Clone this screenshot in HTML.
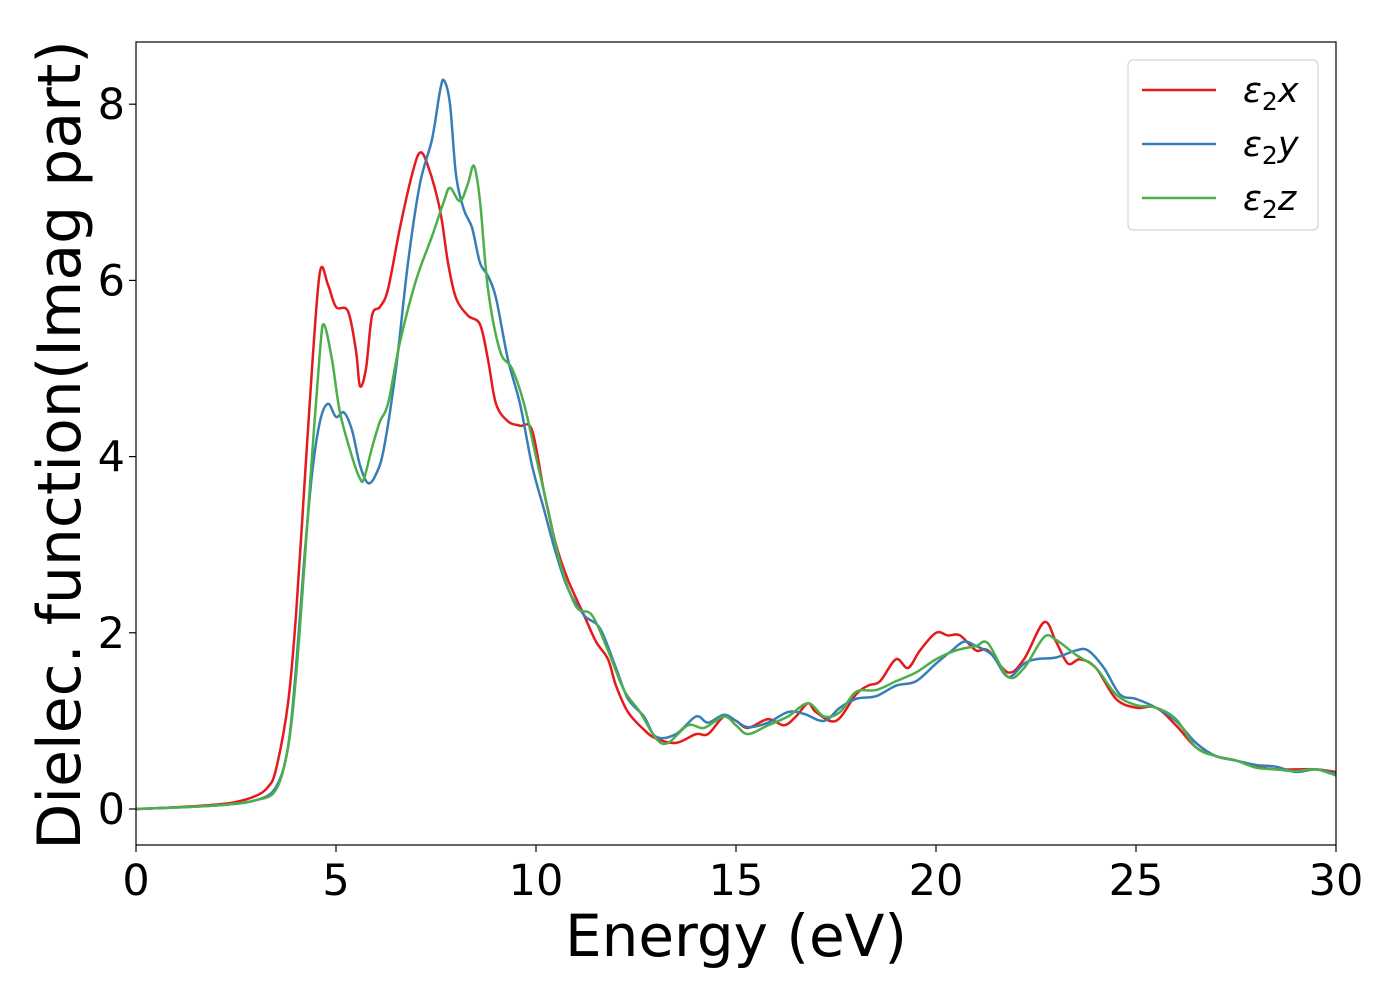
<!DOCTYPE html>
<html><head><meta charset="utf-8"><style>
body{margin:0;background:#fff;}
svg{display:block;font-family:"DejaVu Sans","Liberation Sans",sans-serif;}
</style></head><body>
<svg id="chart" width="1400" height="1000">
<rect x="136" y="42" width="1200" height="803" fill="#fff"/>
<g id="curves"></g>
<rect x="136" y="42" width="1200" height="803" fill="none" stroke="#000" stroke-width="1.2"/>
<g id="xt"></g>
<g id="yt"></g>
<text x="736" y="956" font-size="58" text-anchor="middle">Energy (eV)</text>
<text transform="translate(80,445) rotate(-90)" font-size="60" text-anchor="middle">Dielec. function(Imag part)</text>
<g>
<rect x="1128" y="60" width="190" height="170" rx="5" fill="#fff" fill-opacity="0.8" stroke="#ccc"/>
<g id="leg"></g>
</g>
</svg>
<script>
const categories=["x","y","z"];
const colors=["#e41a1c","#377eb8","#4daf4a"];
const xTicks=[0,5,10,15,20,25,30];
const yTicks=[0,2,4,6,8];
const energyX=[0,1,2,2.5,3,3.3,3.5,3.8,4.0,4.2,4.4,4.6,4.8,5.0,5.3,5.5,5.6,5.75,5.9,6.1,6.3,6.6,6.9,7.1,7.3,7.6,7.8,8.0,8.3,8.6,8.8,9.0,9.3,9.6,9.9,10.2,10.5,10.8,11.2,11.5,11.8,12,12.3,12.7,13.0,13.5,14,14.3,14.7,15.0,15.3,15.8,16.2,16.5,16.8,17,17.5,18,18.3,18.6,19,19.3,19.6,20,20.3,20.6,21,21.3,21.8,22.2,22.7,23,23.3,23.6,24,24.5,25,25.5,26,26.5,27,27.5,28,28.5,29,29.5,30];
const valuesX=[0,0.02,0.05,0.08,0.15,0.25,0.45,1.2,2.2,3.6,5.0,6.1,5.95,5.7,5.65,5.2,4.8,5.0,5.6,5.7,5.9,6.6,7.2,7.45,7.3,6.8,6.2,5.8,5.6,5.5,5.1,4.6,4.4,4.35,4.3,3.6,3.0,2.6,2.2,1.9,1.7,1.4,1.1,0.9,0.8,0.75,0.85,0.85,1.05,1.0,0.92,1.02,0.95,1.05,1.2,1.1,1.0,1.3,1.4,1.45,1.7,1.6,1.8,2.0,1.97,1.97,1.8,1.8,1.55,1.7,2.12,1.9,1.65,1.7,1.6,1.25,1.15,1.15,0.95,0.7,0.6,0.55,0.48,0.45,0.45,0.45,0.42];
const energyY=[0,2,3,3.5,3.8,4.0,4.2,4.4,4.6,4.8,5.0,5.2,5.4,5.6,5.8,6.0,6.2,6.5,6.8,7.1,7.4,7.6,7.7,7.85,8.0,8.2,8.4,8.6,8.8,9.0,9.3,9.6,9.9,10.2,10.5,10.8,11.2,11.6,12,12.3,12.7,13.0,13.5,14,14.3,14.7,15.0,15.3,15.8,16.3,16.7,17.2,17.6,18,18.5,19,19.5,20,20.4,20.7,21,21.4,21.8,22.2,22.5,23,23.5,23.8,24.2,24.6,25,25.5,26,26.5,27,27.5,28,28.5,29,29.5,30];
const valuesY=[0,0.04,0.1,0.25,0.7,1.6,2.8,3.8,4.4,4.6,4.45,4.5,4.3,3.9,3.7,3.8,4.1,5.0,6.2,7.1,7.6,8.15,8.27,8.0,7.2,6.8,6.6,6.2,6.05,5.8,5.1,4.6,3.9,3.4,2.9,2.5,2.2,2.05,1.6,1.25,1.05,0.82,0.85,1.05,0.98,1.07,1.0,0.93,0.98,1.1,1.08,1.0,1.15,1.25,1.28,1.4,1.45,1.65,1.8,1.9,1.85,1.75,1.5,1.65,1.7,1.72,1.8,1.8,1.6,1.3,1.25,1.15,1.0,0.75,0.6,0.55,0.5,0.48,0.42,0.45,0.4];
const energyZ=[0,2,3,3.5,3.8,4.0,4.2,4.4,4.6,4.7,4.9,5.1,5.4,5.6,5.7,5.9,6.1,6.3,6.6,7.0,7.4,7.7,7.85,8.1,8.3,8.45,8.6,8.8,9.1,9.4,9.7,10,10.3,10.6,11,11.4,11.8,12.2,12.6,13,13.3,13.8,14.2,14.7,15.0,15.3,15.8,16.3,16.8,17.2,17.6,18,18.5,19,19.5,20,20.5,21,21.3,21.8,22.2,22.7,23,23.5,24,24.5,25,25.5,26,26.5,27,27.5,28,28.5,29,29.5,30];
const valuesZ=[0,0.04,0.1,0.22,0.7,1.5,2.7,4.0,5.2,5.5,5.1,4.5,4.0,3.75,3.75,4.1,4.4,4.6,5.3,6.0,6.5,6.9,7.05,6.9,7.1,7.3,6.9,5.9,5.2,5.0,4.6,4.0,3.4,2.8,2.3,2.2,1.8,1.35,1.1,0.8,0.75,0.95,0.92,1.05,0.95,0.85,0.95,1.05,1.2,1.05,1.1,1.33,1.35,1.45,1.55,1.7,1.8,1.85,1.88,1.5,1.6,1.95,1.92,1.75,1.6,1.3,1.18,1.15,1.02,0.7,0.6,0.55,0.47,0.45,0.43,0.45,0.38];
const X0=136,X1=1336,XMIN=0,XMAX=30,Y0=809,YPU=88.1;
const sx=v=>X0+(v-XMIN)/(XMAX-XMIN)*(X1-X0);
const sy=v=>Y0-v*YPU;
const NS="http://www.w3.org/2000/svg";
function mk(t,a,p){const e=document.createElementNS(NS,t);for(const k in a)e.setAttribute(k,a[k]);p.appendChild(e);return e;}
function path(xs,ys){const P=xs.map((x,i)=>[sx(x),sy(ys[i])]);let d="M"+P[0][0]+","+P[0][1];
for(let i=0;i<P.length-1;i++){const p0=P[Math.max(0,i-1)],p1=P[i],p2=P[i+1],p3=P[Math.min(P.length-1,i+2)];
d+=" C"+(p1[0]+(p2[0]-p0[0])/6)+","+(p1[1]+(p2[1]-p0[1])/6)+" "+(p2[0]-(p3[0]-p1[0])/6)+","+(p2[1]-(p3[1]-p1[1])/6)+" "+p2[0]+","+p2[1];}return d;}
const cg=document.getElementById("curves");
const series=[[energyX,valuesX],[energyY,valuesY],[energyZ,valuesZ]];
series.forEach((s,i)=>{const e=mk("path",{d:path(s[0],s[1]),fill:"none",stroke:colors[i],"stroke-width":2.5,"stroke-linejoin":"round"},cg);

});
const xg=document.getElementById("xt");
xTicks.forEach(v=>{const l=mk("line",{x1:sx(v),x2:sx(v),y1:845,y2:852,stroke:"#000","stroke-width":1.2},xg);


const t=mk("text",{x:sx(v),y:895,"font-size":43,"text-anchor":"middle"},xg);t.textContent=v;

});
const yg=document.getElementById("yt");
yTicks.forEach(v=>{const l=mk("line",{x1:129,x2:136,y1:sy(v),y2:sy(v),stroke:"#000","stroke-width":1.2},yg);


const t=mk("text",{x:125,y:sy(v)+15,"font-size":43,"text-anchor":"end"},yg);t.textContent=v;

});
const lg=document.getElementById("leg");
categories.forEach((c,i)=>{const y=90+i*54;
const l=mk("line",{x1:1142,x2:1216,y1:y,y2:y,stroke:colors[i],"stroke-width":2.5},lg);


const t=mk("text",{x:1243,y:y+12,"font-size":35,"font-style":"italic"},lg);
t.innerHTML='ε<tspan font-style="normal" font-size="25" dy="8">2</tspan><tspan dy="-8">'+c+'</tspan>';

});
</script>
</body></html>
